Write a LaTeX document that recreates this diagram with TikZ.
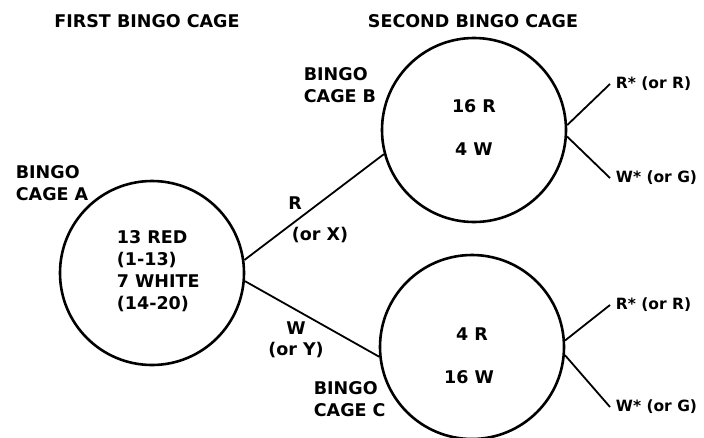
\documentclass[tikz,border=0pt]{standalone}
\usepackage{fontspec}
\setmainfont{DejaVu Sans}

\tikzset{%
  >=latex,
  cage/.style={circle,draw,line width=2.6pt,minimum size=184pt,inner sep=0pt},
  txt/.style={font=\bfseries\fontsize{17.5}{22}\selectfont,inner sep=0pt,align=left},
  outcome/.style={txt,font=\bfseries\fontsize{15.5}{19}\selectfont,anchor=west}
}

\begin{document}
\begin{tikzpicture}[x=1pt,y=-1pt,line width=1.8pt]
     \useasboundingbox (0,0) rectangle (704,437);

     % titles
     \node[txt] (first) at (147,21) {FIRST BINGO CAGE};
     \node[txt] (second) at (473,21) {SECOND BINGO CAGE};

     % the three cages
     \node[cage] (A) at (152,273) {};
     \node[cage] (B) at (474,130) {};
     \node[cage] (C) at (472,347) {};

     \node[txt,anchor=west] (labA) at (15,183) {BINGO\\CAGE A};
     \node[txt,anchor=west] (labB) at (303,85) {BINGO\\CAGE B};
     \node[txt,anchor=west] (labC) at (313,399) {BINGO\\CAGE C};

     \node[txt,anchor=west] (contA) at (116,271) {13 RED\\(1-13)\\7 WHITE\\(14-20)};
     \foreach \n/\c/\y/\t in
       { rB/B/106/{16 R}, wB/B/149/{4 W},
         rC/C/334/{4 R}, wC/C/377/{16 W}
       }
       \node[txt] (\n) at (\c.center |- 0,\y) {\t};

     % first draw
     \draw (A.8) -- (B.195);
     \draw (A.355) -- (C.186);
     \node[txt] (r) at (295,203) {R};
     \node[txt] (x) at (320,235) {(or X)};
     \node[txt] (w) at (296,328) {W};
     \node[txt] (y) at (296,350) {(or Y)};

     % second draw
     \foreach \c/\a/\y/\t in
       { B/3/84/{R* (or R)}, B/356/178/{W* (or G)},
         C/4/305/{R* (or R)}, C/355/407/{W* (or G)}
       }
       {
       \coordinate (e\c\a) at (610,\y);
       \draw (\c.\a) -- (e\c\a);
       \node[outcome] (o\c\a) at ([xshift=5pt]e\c\a) {\t};
       }

\end{tikzpicture}
\end{document}
